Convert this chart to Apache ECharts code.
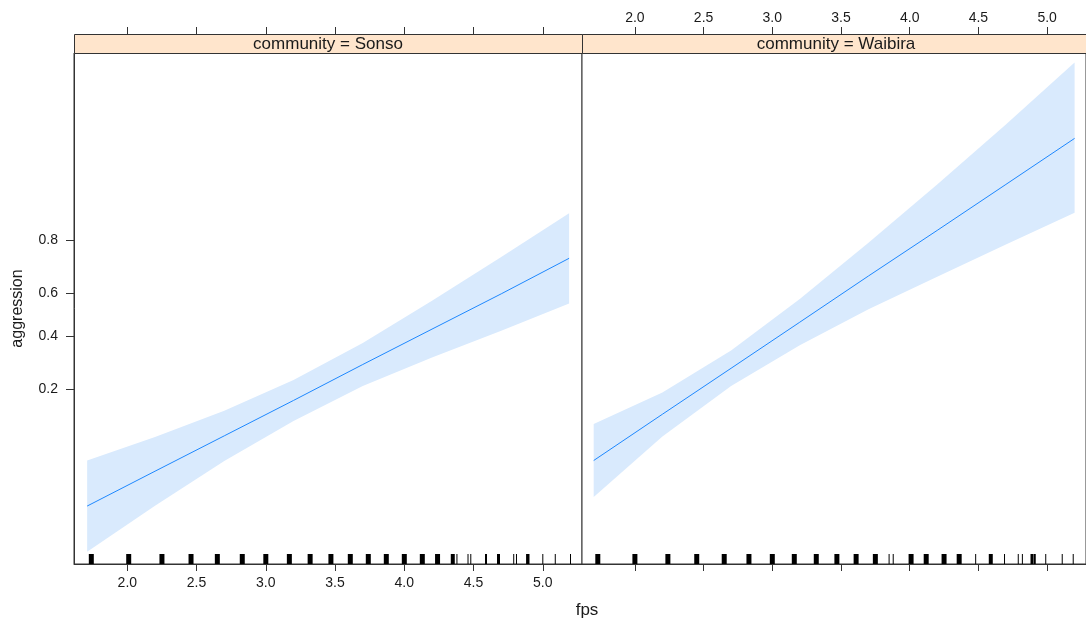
<!DOCTYPE html>
<html>
<head>
<meta charset="utf-8">
<script src="https://cdn.jsdelivr.net/npm/echarts@6/dist/echarts.min.js"></script>
<style>
html,body{margin:0;padding:0;background:#fff;}
#chart{width:1086px;height:625px;}
</style>
</head>
<body>
<div id="chart"></div>
<script>
// ---------------- data ----------------
const communities = ['Sonso', 'Waibira'];
const xTicks = [2.0, 2.5, 3.0, 3.5, 4.0, 4.5, 5.0];
const yTicks = [0.2, 0.4, 0.6, 0.8];
const xRange = [1.615, 5.283];

// fitted probability of aggression with 95% band
const sonsoFps   = [1.71, 2.2, 2.7, 3.2, 3.7, 4.2, 4.7, 5.19];
const sonsoFit   = [0.0274, 0.0512, 0.0945, 0.168, 0.283, 0.433, 0.596, 0.741];
const sonsoLower = [0.0119, 0.0276, 0.0612, 0.121, 0.209, 0.310, 0.426, 0.552];
const sonsoUpper = [0.0618, 0.0928, 0.143, 0.228, 0.371, 0.565, 0.746, 0.869];

const waibiraFps   = [1.70, 2.2, 2.7, 3.2, 3.7, 4.2, 4.7, 5.20];
const waibiraFit   = [0.0618, 0.135, 0.269, 0.465, 0.673, 0.828, 0.919, 0.964];
const waibiraLower = [0.0323, 0.0936, 0.209, 0.361, 0.525, 0.670, 0.787, 0.870];
const waibiraUpper = [0.115, 0.190, 0.339, 0.572, 0.793, 0.919, 0.972, 0.991];

// rug of observed fps values (count = how many observations overlap at that value)
const sonsoRug      = [1.74, 2.01, 2.25, 2.46, 2.65, 2.83, 3.00, 3.17, 3.32, 3.47, 3.61, 3.74, 3.87, 4.00, 4.13, 4.24, 4.35, 4.38, 4.46, 4.48, 4.59, 4.68, 4.79, 4.81, 4.89, 4.90, 5.00, 5.09, 5.20];
const sonsoRugCount = [5, 5, 5, 5, 5, 5, 5, 5, 5, 5, 5, 5, 5, 5, 5, 5, 4, 1, 1, 1, 2, 3, 1, 1, 3, 1, 1, 1, 1];
const waibiraRug      = [1.73, 2.00, 2.24, 2.45, 2.65, 2.83, 3.00, 3.16, 3.32, 3.47, 3.61, 3.75, 3.85, 3.88, 4.01, 4.12, 4.25, 4.36, 4.48, 4.59, 4.69, 4.79, 4.82, 4.89, 4.91, 4.99, 5.11, 5.19];
const waibiraRugCount = [5, 5, 5, 5, 5, 5, 5, 5, 5, 5, 5, 5, 1, 1, 5, 5, 5, 5, 1, 4, 1, 1, 1, 3, 2, 1, 1, 1];

// ---------------- helpers ----------------
const logit = p => Math.log(p / (1 - p));
const invlogit = l => 1 / (1 + Math.exp(-l));

const panels = [
  {name: communities[0], fps: sonsoFps, fit: sonsoFit, lo: sonsoLower, up: sonsoUpper, rug: sonsoRug, rugN: sonsoRugCount},
  {name: communities[1], fps: waibiraFps, fit: waibiraFit, lo: waibiraLower, up: waibiraUpper, rug: waibiraRug, rugN: waibiraRugCount}
];

const TEXT = '#1a1a1a';
const LINE = '#333333';
const FONT = 'Liberation Sans, Arial, sans-serif';
const gridTop = 53, gridH = 511, gridW = 508;
const gridLefts = [74, 582];
const stripH = 19;

const grids = gridLefts.map(l => ({
  left: l, top: gridTop, width: gridW, height: gridH,
  show: true, borderColor: LINE, borderWidth: 1, backgroundColor: '#fff'
}));

function xAxisCfg(gi, pos, labels) {
  return {
    type: 'value', gridIndex: gi, position: pos, min: xRange[0], max: xRange[1],
    offset: pos === 'top' ? stripH : 0,
    axisLine: {show: pos === 'bottom', onZero: false, lineStyle: {color: LINE}},
    splitLine: {show: false},
    axisTick: {show: true, inside: false, length: 7, customValues: xTicks, lineStyle: {color: LINE}},
    axisLabel: {show: labels, customValues: xTicks, margin: pos === 'top' ? 9 : 12,
      color: TEXT, fontFamily: FONT, fontSize: 14, formatter: v => v.toFixed(1)}
  };
}

const xAxes = [
  xAxisCfg(0, 'bottom', true), xAxisCfg(0, 'top', false),
  xAxisCfg(1, 'bottom', false), xAxisCfg(1, 'top', true)
];

const yLogTicks = yTicks.map(logit);
const yAxes = [0, 1].map(gi => ({
  type: 'value', gridIndex: gi, min: -4.65, max: 4.88,
  name: gi === 0 ? 'aggression' : '', nameLocation: 'middle', nameGap: 48, nameRotate: 90,
  nameTextStyle: {color: TEXT, fontFamily: FONT, fontSize: 16},
  axisLine: {show: gi === 0, onZero: false, lineStyle: {color: LINE}},
  splitLine: {show: false},
  axisTick: {show: gi === 0, length: 8, customValues: yLogTicks, lineStyle: {color: LINE}},
  axisLabel: {show: gi === 0, customValues: yLogTicks, margin: 16, color: TEXT, fontFamily: FONT, fontSize: 14,
    formatter: v => invlogit(v).toFixed(1)}
}));

const series = [];
panels.forEach((p, gi) => {
  // confidence band
  series.push({
    type: 'custom', xAxisIndex: gi * 2, yAxisIndex: gi, silent: true, z: 1,
    data: [[p.fps[0], logit(p.fit[0])]],
    renderItem: (params, api) => {
      const pts = [];
      p.fps.forEach((x, i) => pts.push(api.coord([x, logit(p.up[i])])));
      for (let i = p.fps.length - 1; i >= 0; i--) pts.push(api.coord([p.fps[i], logit(p.lo[i])]));
      return {type: 'polygon', shape: {points: pts}, style: {fill: '#D9EAFD', stroke: null}};
    }
  });
  // fitted line
  series.push({
    type: 'line', xAxisIndex: gi * 2, yAxisIndex: gi, z: 3, silent: true,
    showSymbol: false, symbol: 'none',
    lineStyle: {color: '#1E88FF', width: 1},
    data: p.fps.map((x, i) => [x, logit(p.fit[i])])
  });
  // rug
  series.push({
    type: 'custom', xAxisIndex: gi * 2, yAxisIndex: gi, silent: true, z: 4,
    data: p.rug.map((x, i) => [x, p.rugN[i]]),
    renderItem: (params, api) => {
      const cs = params.coordSys;
      const px = api.coord([api.value(0), 0])[0];
      const w = Math.max(1, api.value(1));
      const bottom = cs.y + cs.height;
      return {type: 'rect', shape: {x: px - w / 2, y: bottom - 10, width: w, height: 10},
        style: {fill: '#000'}};
    }
  });
});

const graphics = [];
panels.forEach((p, gi) => {
  graphics.push({
    type: 'rect', left: gridLefts[gi], top: gridTop - stripH, z: 10,
    shape: {x: 0, y: 0, width: gridW, height: stripH},
    style: {fill: '#FFE5CC', stroke: LINE, lineWidth: 1}
  });
  graphics.push({
    type: 'text', z: 11,
    x: gridLefts[gi] + gridW / 2, y: gridTop - stripH / 2 + 1,
    style: {text: 'community = ' + p.name, fill: TEXT, font: '17px ' + FONT,
      textAlign: 'center', textVerticalAlign: 'middle'}
  });
});
graphics.push({
  type: 'text', z: 11, x: 587, y: 610,
  style: {text: 'fps', fill: TEXT, font: '17px ' + FONT, textAlign: 'center', textVerticalAlign: 'middle'}
});

const chart = echarts.init(document.getElementById('chart'), null, {renderer: 'canvas'});
chart.setOption({
  animation: false,
  backgroundColor: '#fff',
  grid: grids,
  xAxis: xAxes,
  yAxis: yAxes,
  series: series,
  graphic: graphics
});
</script>
</body>
</html>
